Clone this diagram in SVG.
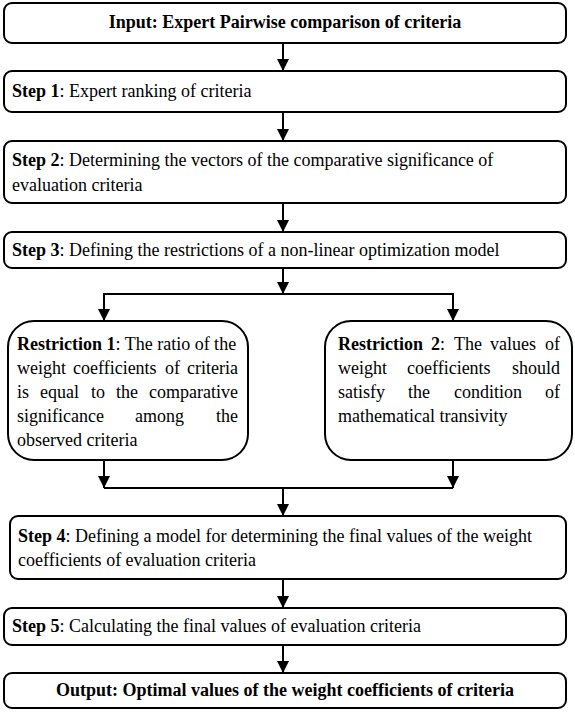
<svg xmlns="http://www.w3.org/2000/svg" width="575" height="712" viewBox="0 0 575 712">
<style>
.box{fill:#fff;stroke:#000;stroke-width:2}
text{font-family:'Liberation Serif',Tinos,'Times New Roman','DejaVu Serif',serif;font-size:18px;fill:#000}
.b{font-weight:bold}
.c{text-anchor:middle}
.ln{stroke:#000;stroke-width:2;fill:none}
</style>
<defs>
<marker id="ah" markerUnits="userSpaceOnUse" markerWidth="14" markerHeight="12" refX="12" refY="6" orient="auto">
<path d="M0,0 L12,6 L0,12 Z" fill="#000"/>
</marker>
</defs>
<rect width="575" height="712" fill="#fff"/>
<g id="connectors">
<line class="ln" x1="283" y1="43" x2="283" y2="71" marker-end="url(#ah)"/>
<line class="ln" x1="283" y1="112" x2="283" y2="141" marker-end="url(#ah)"/>
<line class="ln" x1="283" y1="203" x2="283" y2="232" marker-end="url(#ah)"/>
<line class="ln" x1="283" y1="268" x2="283" y2="294" marker-end="url(#ah)"/>
<line class="ln" x1="104" y1="294" x2="453" y2="294"/>
<line class="ln" x1="104" y1="293" x2="104" y2="321" marker-end="url(#ah)"/>
<line class="ln" x1="453" y1="293" x2="453" y2="321" marker-end="url(#ah)"/>
<line class="ln" x1="104" y1="460" x2="104" y2="488" marker-end="url(#ah)"/>
<line class="ln" x1="453" y1="460" x2="453" y2="488" marker-end="url(#ah)"/>
<line class="ln" x1="104" y1="488" x2="453" y2="488"/>
<line class="ln" x1="283" y1="488" x2="283" y2="516" marker-end="url(#ah)"/>
<line class="ln" x1="283" y1="579" x2="283" y2="608" marker-end="url(#ah)"/>
<line class="ln" x1="283" y1="645" x2="283" y2="673" marker-end="url(#ah)"/>
</g>
<g id="input">
<rect class="box" x="4" y="3" width="562" height="40" rx="8"/>
<text class="b c" x="285" y="28">Input: Expert Pairwise comparison of criteria</text>
</g>
<g id="step1">
<rect class="box" x="4" y="71" width="562" height="41" rx="8"/>
<text x="12" y="97"><tspan class="b">Step 1</tspan>: Expert ranking of criteria</text>
</g>
<g id="step2">
<rect class="box" x="4" y="141" width="562" height="62" rx="8"/>
<text x="12" y="166"><tspan class="b">Step 2</tspan>: Determining the vectors of the comparative significance of</text>
<text x="12" y="191">evaluation criteria</text>
</g>
<g id="step3">
<rect class="box" x="4" y="232" width="562" height="36" rx="8"/>
<text x="12" y="256"><tspan class="b">Step 3</tspan>: Defining the restrictions of a non-linear optimization model</text>
</g>
<g id="restriction1">
<rect class="box" x="8" y="321" width="240" height="139" rx="26"/>
<text x="17" y="350"><tspan class="b">Restriction 1</tspan>: The ratio of the</text>
<text y="374"><tspan x="17">weight</tspan><tspan x="73">coefficients</tspan><tspan x="165">of</tspan><tspan x="238" text-anchor="end">criteria</tspan></text>
<text y="398"><tspan x="17">is</tspan><tspan x="40">equal</tspan><tspan x="91">to</tspan><tspan x="116">the</tspan><tspan x="238" text-anchor="end">comparative</tspan></text>
<text y="422"><tspan x="17">significance</tspan><tspan x="135">among</tspan><tspan x="238" text-anchor="end">the</tspan></text>
<text x="17" y="446">observed criteria</text>
</g>
<g id="restriction2">
<rect class="box" x="325" y="321" width="247" height="139" rx="26"/>
<text y="350"><tspan class="b" x="338">Restriction</tspan><tspan x="431"><tspan class="b">2</tspan>:</tspan><tspan x="454">The</tspan><tspan x="490">values</tspan><tspan x="560" text-anchor="end">of</tspan></text>
<text y="374"><tspan x="338">weight</tspan><tspan x="407">coefficients</tspan><tspan x="560" text-anchor="end">should</tspan></text>
<text y="398"><tspan x="338">satisfy</tspan><tspan x="408">the</tspan><tspan x="454">condition</tspan><tspan x="560" text-anchor="end">of</tspan></text>
<text x="338" y="422">mathematical transivity</text>
</g>
<g id="step4">
<rect class="box" x="10" y="516" width="556" height="63" rx="8"/>
<text x="18" y="542"><tspan class="b">Step 4</tspan>: Defining a model for determining the final values of the weight</text>
<text x="18" y="566">coefficients of evaluation criteria</text>
</g>
<g id="step5">
<rect class="box" x="4" y="608" width="562" height="37" rx="8"/>
<text x="12" y="632"><tspan class="b">Step 5</tspan>: Calculating the final values of evaluation criteria</text>
</g>
<g id="output">
<rect class="box" x="4" y="673" width="562" height="35" rx="8"/>
<text class="b c" x="285" y="696">Output: Optimal values of the weight coefficients of criteria</text>
</g>
</svg>
